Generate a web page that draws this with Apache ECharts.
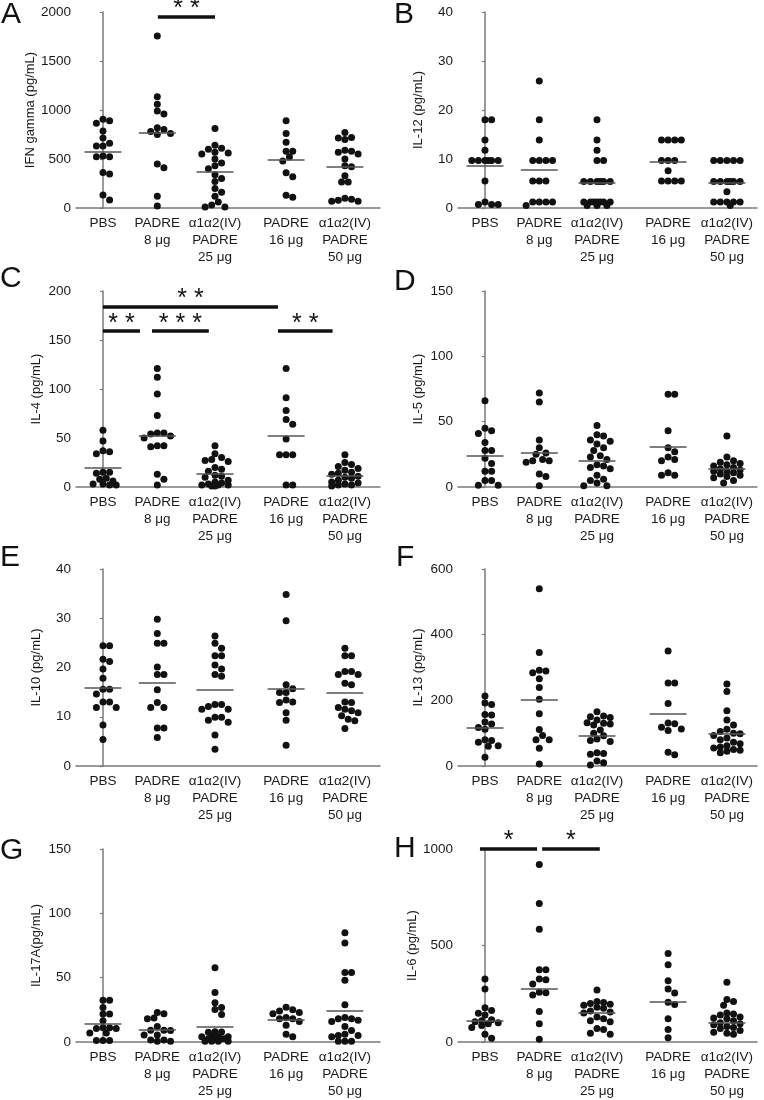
<!DOCTYPE html>
<html><head><meta charset="utf-8">
<script src="https://cdn.jsdelivr.net/npm/echarts@6/dist/echarts.min.js"></script>
<style>html,body{margin:0;padding:0;background:#fff}#c{width:764px;height:1100px}</style>
</head><body><div id="c"></div>
<script>
// ---------- DATA ----------
const groupLabels = ['PBS', 'PADRE\n8 μg', 'α1α2(IV)\nPADRE\n25 μg', 'PADRE\n16 μg', 'α1α2(IV)\nPADRE\n50 μg'];
const groupPos = [0, 0.97, 2, 3.27, 4.32];

const ifnGamma = [
  [905, 891, 864, 786, 714, 660, 633, 633, 531, 524, 524, 361, 347, 133, 82],
  [1755, 1136, 1058, 990, 959, 820, 800, 780, 760, 750, 450, 410, 120, 20],
  [810, 640, 610, 600, 570, 560, 550, 500, 460, 430, 400, 340, 300, 270, 200, 160, 120, 60, 30, 10, 10],
  [890, 760, 670, 580, 580, 520, 480, 360, 320, 130, 110],
  [770, 720, 715, 700, 590, 580, 570, 550, 500, 430, 420, 330, 265, 265, 100, 90, 80, 70, 70]
];
const ifnGammaMean = [571, 772, 374, 497, 422];
const sigA = [{from: 0.98, to: 2.0, at: 1952, stars: '**'}];

const il12 = [
  [18, 18, 13.9, 11.8, 9.7, 9.7, 9.7, 9.7, 9.7, 9.7, 5.5, 1.2, 0.7, 0.7, 0.7],
  [25.9, 18, 13.9, 9.7, 9.7, 9.7, 9.7, 5.5, 5.5, 5.5, 1.2, 1.2, 1.2, 1.2, 0.5],
  [18, 13.9, 11.8, 9.7, 9.7, 5.4, 5.4, 5.4, 5.4, 5.4, 5.4, 1.2, 1.2, 1.2, 1.2, 1.2, 1.2, 1.2, 0.5, 0.5, 0.5],
  [13.9, 13.9, 13.9, 13.9, 9.7, 9.7, 9.7, 7.6, 5.5, 5.5, 5.5, 5.5],
  [9.7, 9.7, 9.7, 9.7, 9.7, 5.4, 5.4, 5.4, 5.4, 5.4, 5.4, 3.3, 1.2, 1.2, 1.2, 1.2, 1.2, 0.5]
];
const il12Mean = [8.6, 7.9, 5.2, 9.5, 5.2];

const il4 = [
  [58, 47, 37, 36, 34, 15, 15, 14, 9, 8, 6, 3, 3, 2, 2],
  [121, 112, 95, 73, 55, 55, 54, 52, 50, 42, 42, 41, 13, 8, 2],
  [42, 34, 30, 28, 27, 26, 20, 18, 16, 12, 11, 10, 7, 5, 4, 3, 2, 2, 2, 1, 1],
  [121, 91, 78, 69, 64, 49, 33, 33, 33, 2, 2],
  [33, 25, 23, 21, 19, 17, 15, 14, 13, 11, 10, 9, 7, 5, 4, 3, 2, 2, 1]
];
const il4Mean = [19.7, 52.6, 13.6, 52.6, 11.9];
const sigC = [
  {from: 0, to: 0.66, at: 159, stars: '**'},
  {from: 0.875, to: 1.89, at: 159, stars: '***'},
  {from: 0, to: 3.125, at: 184, stars: '**'},
  {from: 3.125, to: 4.1, at: 159, stars: '**'}
];

const il5 = [
  [66, 45, 43, 41, 34, 28, 28, 22, 18, 12, 12, 5, 5, 1.3, 1.3],
  [72, 65, 36, 30, 26, 25, 21, 20, 20, 19, 10, 8, 1],
  [47, 40, 39, 36, 35, 33, 30, 28, 24, 23, 21, 17, 16, 15, 14, 9, 6, 5, 3, 1, 1],
  [71, 71, 43, 30, 27, 23, 21, 20, 11, 9, 9],
  [39, 23, 20, 19, 18, 17, 16, 15, 14, 13, 12, 12, 11, 10, 9, 8, 7, 5, 3]
];
const il5Mean = [24.2, 26.3, 20.4, 30.9, 14.3];

const il10 = [
  [24.4, 24.4, 21.7, 21.2, 19.7, 17.8, 15.6, 15.6, 14.6, 13, 13, 11.9, 11.9, 8.3, 5.4],
  [29.8, 26.9, 24.9, 24.9, 20.1, 18.6, 18.6, 15.5, 12.9, 11.9, 11.9, 7.7, 7.7, 5.8],
  [26.4, 24.9, 23.9, 22.4, 22.4, 20.5, 19.7, 18.6, 18.2, 12.5, 12.5, 12.1, 11.5, 11.5, 9.9, 9.9, 9.3, 8.9, 6.3, 3.4],
  [34.8, 29.5, 16.5, 15.7, 14.9, 14.9, 13.4, 13, 12.9, 10.8, 9.3, 4.2],
  [23.9, 22.4, 22.4, 19.2, 19.2, 18.6, 18.6, 16.8, 16.5, 13, 12.9, 11.9, 11.5, 11.2, 10.8, 10.2, 9.5, 9.2, 7.6]
];
const il10Mean = [15.9, 16.9, 15.5, 15.7, 14.9];

const il13 = [
  [213, 192, 187, 157, 155, 134, 128, 117, 112, 80, 78, 72, 62, 60, 27],
  [540, 346, 292, 289, 284, 266, 239, 203, 159, 111, 93, 80, 80, 54, 6],
  [165, 152, 150, 148, 140, 132, 130, 128, 125, 110, 100, 92, 82, 78, 75, 40, 38, 36, 15, 10, 3],
  [350, 253, 253, 190, 131, 129, 118, 113, 108, 42, 34],
  [250, 227, 168, 140, 125, 112, 105, 100, 98, 93, 85, 80, 72, 68, 62, 58, 55, 50, 48, 45, 40]
];
const il13Mean = [118, 203, 91, 159, 98];

const il17a = [
  [32.4, 32.4, 26.8, 21.7, 21.7, 16.6, 11, 10.5, 10.5, 11, 6.9, 6.9, 1.2, 1.2, 1.2],
  [23, 22, 18.6, 18, 12, 9.2, 9.2, 9, 5.4, 5.4, 1.5, 1.5, 0.5, 0.5],
  [57.7, 38.5, 30.6, 26.8, 25.3, 21.4, 8, 7.7, 7.5, 4, 4, 4, 4, 2.5, 2.5, 2.5, 2.5, 0.6, 0.6, 0.6, 0.6],
  [27, 25, 24, 23, 22, 19, 18, 18, 16, 13, 6, 4],
  [85, 77, 54, 54, 48, 29, 19, 18, 18, 17, 16, 12, 9, 6, 5, 5, 4, 0.5, 0.5, 0.5]
];
const il17aMean = [13.8, 9.7, 12.2, 17.6, 24.5];

const il6 = [
  [326, 275, 177, 163, 149, 140, 115, 110, 105, 100, 95, 85, 75, 40, 20],
  [920, 718, 584, 375, 375, 326, 323, 300, 258, 255, 244, 158, 95, 14],
  [270, 210, 205, 200, 195, 190, 180, 175, 160, 155, 150, 130, 120, 110, 105, 70, 65, 45, 40],
  [459, 400, 318, 275, 254, 206, 194, 120, 65, 22],
  [310, 220, 210, 190, 150, 145, 140, 130, 125, 120, 110, 100, 95, 90, 80, 75, 70, 60, 50, 45, 40]
];
const il6Mean = [108, 275, 149, 206, 98];
const sigH = [
  {from: -0.09, to: 0.93, at: 1000, stars: '*'},
  {from: 1.02, to: 2.05, at: 1000, stars: '*'}
];

const panels = [
  {letter: 'A', name: 'IFN gamma (pg/mL)', values: ifnGamma, means: ifnGammaMean, max: 2000, step: 500, sig: sigA},
  {letter: 'B', name: 'IL-12 (pg/mL)', values: il12, means: il12Mean, max: 40, step: 10, sig: []},
  {letter: 'C', name: 'IL-4 (pg/mL)', values: il4, means: il4Mean, max: 200, step: 50, sig: sigC},
  {letter: 'D', name: 'IL-5 (pg/mL)', values: il5, means: il5Mean, max: 150, step: 50, sig: []},
  {letter: 'E', name: 'IL-10 (pg/mL)', values: il10, means: il10Mean, max: 40, step: 10, sig: []},
  {letter: 'F', name: 'IL-13 (pg/mL)', values: il13, means: il13Mean, max: 600, step: 200, sig: []},
  {letter: 'G', name: 'IL-17A(pg/mL)', values: il17a, means: il17aMean, max: 150, step: 50, sig: []},
  {letter: 'H', name: 'IL-6 (pg/mL)', values: il6, means: il6Mean, max: 1000, step: 500, sig: sigH}
];

// ---------- LAYOUT ----------
const FONT = '"Liberation Sans", Arial, Helvetica, sans-serif';
const colLeft = [76, 458];
const colWidth = [304, 299];
const rowTop = [12, 291, 569, 849];
const rowHeight = [196, 196, 197, 195];
const pxPerUnitX = 56;
const xMin = -0.482;
const dotSize = 7;
const letterPos = [[1, 0], [394, 0], [0, 264], [394, 267], [0, 543], [396, 543], [0, 836], [394, 834]];

// compact beeswarm placement (pixel-space collision avoidance, width-capped) computed from values
function swarm(vals, center, pxPerY) {
  const sorted = vals.slice().sort((a, b) => b - a);
  const placed = [];
  const minD = 6.6, step = minD / 2, maxHalf = 13.5;
  const cands = [0];
  for (let k = 1; k * step <= maxHalf; k++) { cands.push(k * step, -k * step); }
  const out = [];
  sorted.forEach(v => {
    const py = v * pxPerY;
    let chosen = null, bestD = -1;
    for (const off of cands) {
      const d = placed.length ? Math.min(...placed.map(p => Math.hypot(p[0] - off, p[1] - py))) : Infinity;
      if (d >= minD) { chosen = off; break; }
      if (d > bestD + 0.3) { bestD = d; chosen = off; }
    }
    placed.push([chosen, py]);
    out.push([center + chosen / pxPerUnitX, v]);
  });
  return out;
}

const grids = [], xAxes = [], yAxes = [], series = [], graphics = [];
panels.forEach((p, i) => {
  const col = i % 2, row = Math.floor(i / 2);
  grids.push({left: colLeft[col], top: rowTop[row], width: colWidth[col], height: rowHeight[row], containLabel: false});
  xAxes.push({
    type: 'value', gridIndex: i, min: xMin, max: xMin + colWidth[col] / pxPerUnitX,
    axisLine: {show: true, onZero: false, lineStyle: {color: '#7a7a7a', width: 1.5}},
    axisTick: {show: false}, splitLine: {show: false},
    axisLabel: {
      customValues: groupPos, margin: 7, color: '#1a1a1a', fontSize: 13.5, lineHeight: 17, fontFamily: FONT,
      formatter: v => {
        let best = 0;
        groupPos.forEach((g, j) => { if (Math.abs(g - v) < Math.abs(groupPos[best] - v)) best = j; });
        return groupLabels[best];
      }
    }
  });
  yAxes.push({
    type: 'value', gridIndex: i, min: 0, max: p.max, interval: p.step,
    name: p.name, nameLocation: 'middle', nameGap: 33,
    nameTextStyle: {color: '#1a1a1a', fontSize: 13, fontFamily: FONT},
    axisLine: {show: true, lineStyle: {color: '#7a7a7a', width: 1.5}},
    axisTick: {show: true, length: 3, lineStyle: {color: '#7a7a7a', width: 1.2}},
    axisLabel: {color: '#1a1a1a', fontSize: 13.5, margin: 5, fontFamily: FONT, formatter: v => String(v)},
    splitLine: {show: false}
  });
  const pxPerY = rowHeight[row] / p.max;
  let pts = [];
  p.values.forEach((vals, g) => { pts = pts.concat(swarm(vals, groupPos[g], pxPerY)); });
  const markData = [];
  p.means.forEach((m, g) => {
    markData.push([
      {coord: [groupPos[g] - 0.33, m], lineStyle: {color: '#555', width: 1.5, type: 'solid'}, label: {show: false}},
      {coord: [groupPos[g] + 0.33, m]}
    ]);
  });
  p.sig.forEach(s => {
    markData.push([
      {coord: [s.from, s.at], lineStyle: {color: '#111', width: 3.5, type: 'solid'},
       label: {show: true, formatter: s.stars.split('').join(' '), position: 'insideMiddleTop', distance: -5,
               color: '#111', fontSize: 25, fontFamily: FONT}},
      {coord: [s.to, s.at]}
    ]);
  });
  series.push({
    type: 'scatter', xAxisIndex: i, yAxisIndex: i, data: pts, symbol: 'circle', symbolSize: dotSize,
    itemStyle: {color: '#111', opacity: 1}, clip: false, silent: true,
    markLine: {symbol: ['none', 'none'], silent: true, animation: false, data: markData}
  });
  graphics.push({
    type: 'text', left: letterPos[i][0], top: letterPos[i][1],
    style: {text: p.letter, font: '30px ' + FONT, fill: '#111'}
  });
});

const chart = echarts.init(document.getElementById('c'), null, {renderer: 'canvas'});
chart.setOption({
  animation: false,
  backgroundColor: '#fff',
  grid: grids, xAxis: xAxes, yAxis: yAxes, series: series, graphic: graphics
});
</script></body></html>
